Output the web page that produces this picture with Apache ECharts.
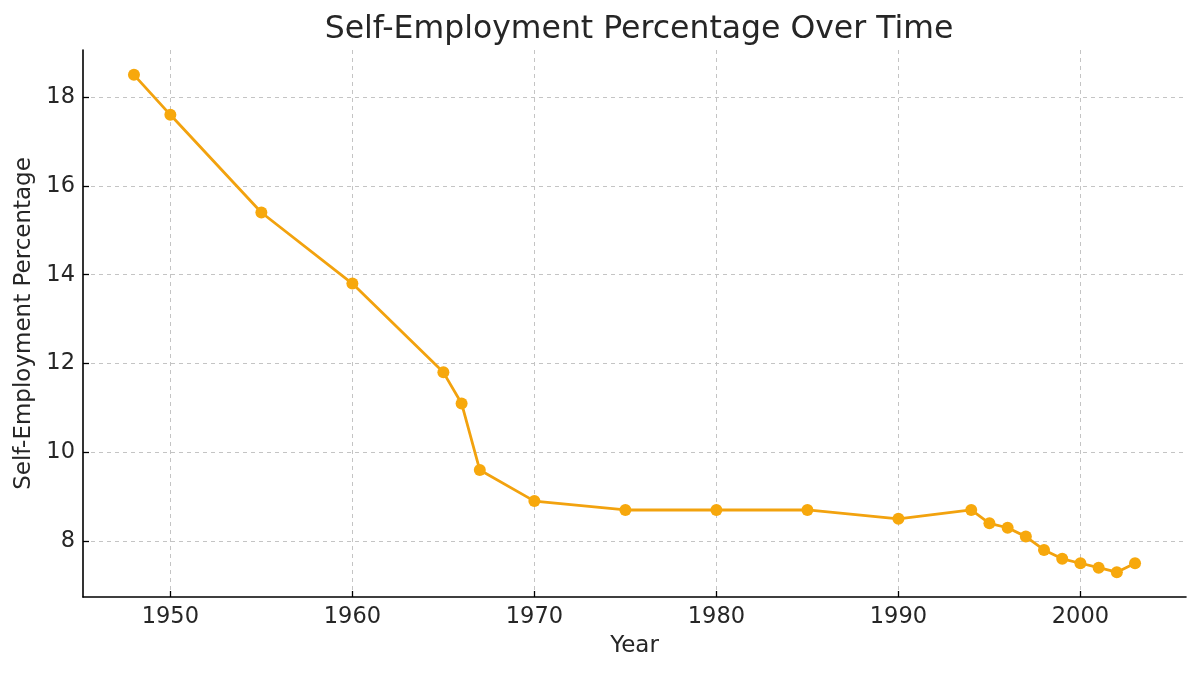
<!DOCTYPE html>
<html>
<head>
<meta charset="utf-8">
<title>Self-Employment Percentage Over Time</title>
<script src="https://cdn.jsdelivr.net/npm/echarts@6/dist/echarts.min.js"></script>
<style>
  html, body { margin: 0; padding: 0; background: #fff; }
  #chart { width: 1200px; height: 674px; }
</style>
</head>
<body>
<div id="chart"></div>
<script>
var years = [1948, 1950, 1955, 1960, 1965, 1966, 1967, 1970, 1975, 1980, 1985, 1990,
             1994, 1995, 1996, 1997, 1998, 1999, 2000, 2001, 2002, 2003];
var selfEmployment = [18.5, 17.6, 15.4, 13.8, 11.8, 11.1, 9.6, 8.9, 8.7, 8.7, 8.7, 8.5,
                      8.7, 8.4, 8.3, 8.1, 7.8, 7.6, 7.5, 7.4, 7.3, 7.5];
var xTicks = [1950, 1960, 1970, 1980, 1990, 2000];
var yTicks = [8, 10, 12, 14, 16, 18];

var font = 'DejaVu Sans';
var myChart = echarts.init(document.getElementById('chart'));

var points = years.map(function (y, i) { return [y, selfEmployment[i]]; });

var option = {
    animation: false,
    backgroundColor: '#ffffff',
    title: {
        text: 'Self-Employment Percentage Over Time',
        left: 634,
        textAlign: 'center',
        top: 9,
        textStyle: { fontFamily: font, fontSize: 31.5, fontWeight: 'normal', color: '#262626' }
    },
    grid: { left: 83, right: 14, top: 50, bottom: 77, outerBoundsMode: 'none', containLabel: false },
    xAxis: {
        type: 'value',
        min: 1945.2,
        max: 2005.8,
        name: 'Year',
        nameLocation: 'middle',
        nameGap: 38,
        nameTextStyle: { fontFamily: font, fontSize: 23, color: '#262626' },
        axisLine: { lineStyle: { color: '#000', width: 1.6 } },
        axisTick: { show: true, inside: true, length: 6, lineStyle: { color: '#000', width: 1.3 }, customValues: xTicks },
        axisLabel: { fontFamily: font, fontSize: 22.5, color: '#262626', margin: 9, customValues: xTicks,
                     formatter: function (v) { return String(v); } },
        splitLine: { show: true, lineStyle: { color: '#c4c4c4', type: [4, 4], width: 1 } }
    },
    yAxis: {
        type: 'value',
        min: 6.74,
        max: 19.06,
        name: 'Self-Employment Percentage',
        nameLocation: 'middle',
        nameGap: 47,
        nameTextStyle: { fontFamily: font, fontSize: 23, color: '#262626' },
        axisLine: { show: true, lineStyle: { color: '#000', width: 1.6 } },
        axisTick: { show: true, inside: true, length: 6, lineStyle: { color: '#000', width: 1.3 }, customValues: yTicks },
        axisLabel: { fontFamily: font, fontSize: 22.5, color: '#262626', margin: 8, customValues: yTicks },
        splitLine: { show: true, lineStyle: { color: '#c4c4c4', type: [4, 4], width: 1 } }
    },
    series: [{
        type: 'line',
        data: points,
        symbol: 'circle',
        symbolSize: 12,
        lineStyle: { color: '#F2A20E', width: 2.8 },
        itemStyle: { color: '#F7A80C' }
    }]
};

myChart.setOption(option);
window.addEventListener('resize', function () { myChart.resize(); });
</script>
</body>
</html>
